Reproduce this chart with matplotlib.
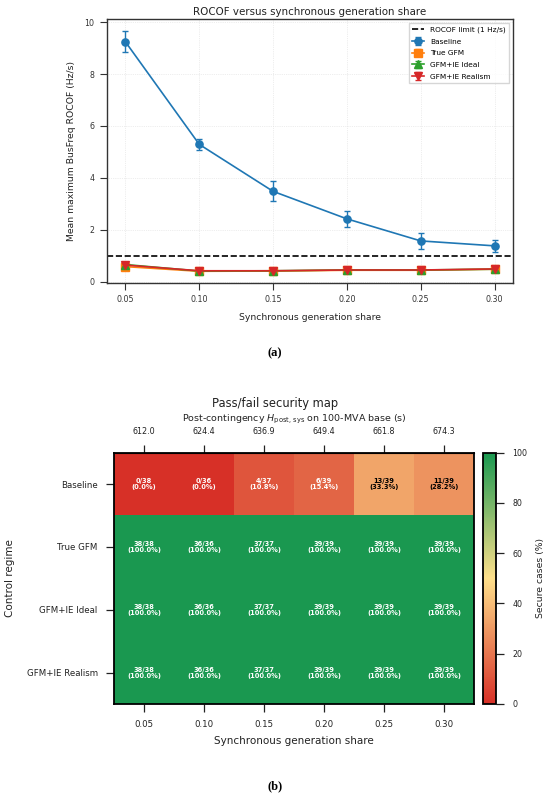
import numpy as np
import matplotlib
matplotlib.use("Agg")
import matplotlib.pyplot as plt
from matplotlib.colors import LinearSegmentedColormap

# ROCOF data (panel a)
share = [0.05, 0.10, 0.15, 0.20, 0.25, 0.30]
baseline = [9.24, 5.29, 3.48, 2.42, 1.57, 1.38]
baseline_err = [0.40, 0.20, 0.39, 0.32, 0.30, 0.22]
true_gfm = [0.58, 0.40, 0.41, 0.44, 0.44, 0.48]
true_gfm_err = [0.05, 0.03, 0.03, 0.03, 0.03, 0.03]
gfm_ideal = [0.66, 0.41, 0.42, 0.45, 0.45, 0.48]
gfm_ideal_err = [0.05, 0.03, 0.03, 0.03, 0.03, 0.03]
gfm_real = [0.64, 0.42, 0.42, 0.45, 0.45, 0.49]
gfm_real_err = [0.05, 0.03, 0.03, 0.03, 0.03, 0.03]
rocof_limit = 1.0

# security map data (panel b)
regimes = ['Baseline', 'True GFM', 'GFM+IE Ideal', 'GFM+IE Realism']
share_labels = ['0.05', '0.10', '0.15', '0.20', '0.25', '0.30']
h_post = ['612.0', '624.4', '636.9', '649.4', '661.8', '674.3']
totals = [38, 36, 37, 39, 39, 39]
secure = [
    [0, 0, 4, 6, 13, 11],
    [38, 36, 37, 39, 39, 39],
    [38, 36, 37, 39, 39, 39],
    [38, 36, 37, 39, 39, 39],
]

fig = plt.figure(figsize=(5.5, 7.98), dpi=100)

# ---------------- (a) ----------------
ax = fig.add_axes([0.1945, 0.6454, 0.7382, 0.3308])
ax.axhline(rocof_limit, color='black', ls='--', lw=1.2, label='ROCOF limit (1 Hz/s)')
kw = dict(lw=1.2, ms=5.2, capsize=2.2, elinewidth=1.0, capthick=1.0)
ax.errorbar(share, baseline, yerr=baseline_err, marker='o', color='#1f77b4', label='Baseline', **kw)
ax.errorbar(share, true_gfm, yerr=true_gfm_err, marker='s', color='#ff7f0e', label='True GFM', **kw)
ax.errorbar(share, gfm_ideal, yerr=gfm_ideal_err, marker='^', color='#2ca02c', label='GFM+IE Ideal', **kw)
ax.errorbar(share, gfm_real, yerr=gfm_real_err, marker='v', color='#d62728', label='GFM+IE Realism', **kw)
ax.set_xticks(share)
ax.set_xticklabels(share_labels)
ax.set_ylim(-0.05, 10.12)
ax.set_yticks([0, 2, 4, 6, 8, 10])
ax.grid(True, ls=':', lw=0.5, color='#dddddd')
ax.tick_params(labelsize=5.7, length=5, width=0.8, colors='#333333', pad=4)
for s in ax.spines.values():
    s.set_color('#333333')
    s.set_linewidth(1.0)
ax.set_title('ROCOF versus synchronous generation share', fontsize=7.4, color='#222222', pad=3)
ax.set_xlabel('Synchronous generation share', fontsize=6.7, color='#222222', labelpad=6)
ax.set_ylabel('Mean maximum BusFreq ROCOF (Hz/s)', fontsize=6.7, color='#222222', labelpad=6)
ax.legend(loc='upper right', fontsize=5.3, frameon=True, fancybox=False, edgecolor='#cccccc',
          borderpad=0.5, labelspacing=0.75, handlelength=1.6)
fig.text(0.5, 1 - 353 / 798, '(a)', ha='center', va='center', fontsize=9, family='Liberation Serif',
         weight='bold')

# ---------------- (b) ----------------
pct = np.array(secure) / np.array(totals) * 100
cmap = LinearSegmentedColormap.from_list('rg', ['#d73027', '#fee08b', '#1a9850'])
hx = fig.add_axes([0.2073, 0.1178, 0.6545, 0.3149])
im = hx.imshow(pct, cmap=cmap, vmin=0, vmax=100, aspect='auto')
for i in range(len(regimes)):
    for j in range(len(totals)):
        p = pct[i, j]
        col = 'black' if 25 <= p <= 75 else 'white'
        hx.text(j, i, f'{secure[i][j]}/{totals[j]}\n({p:.1f}%)', ha='center', va='center',
                fontsize=4.8, weight='bold', color=col, linespacing=1.0)
hx.set_xticks(range(len(share_labels)))
hx.set_xticklabels(share_labels)
hx.set_yticks(range(len(regimes)))
hx.set_yticklabels(regimes)
hx.tick_params(labelsize=6.2, length=5.8, width=0.9, colors='#222222', pad=6)
for s in hx.spines.values():
    s.set_linewidth(1.3)
hx.set_xlabel('Synchronous generation share', fontsize=7.5, color='#222222', labelpad=5)
hx.set_ylabel('Control regime', fontsize=7.5, color='#222222', labelpad=8)

top = hx.secondary_xaxis('top')
top.set_xticks(range(len(h_post)))
top.set_xticklabels(h_post)
top.tick_params(labelsize=5.8, length=5.8, width=0.9, colors='#222222', pad=6)
top.set_xlabel(r'Post-contingency $H_{\mathrm{post,\,sys}}$ on 100-MVA base (s)', fontsize=6.8, color='#222222',
               labelpad=4)
fig.text(0.5, 1 - 404 / 798, 'Pass/fail security map', ha='center', va='center', fontsize=8.3,
         color='#222222')

cax = fig.add_axes([0.8787, 0.1178, 0.0231, 0.3149])
cb = fig.colorbar(im, cax=cax)
cb.set_ticks([0, 20, 40, 60, 80, 100])
cb.ax.tick_params(labelsize=5.7, length=5.8, width=0.9, colors='#222222', pad=6)
cb.outline.set_linewidth(1.3)
cb.set_label('Secure cases (%)', fontsize=6.7, color='#222222', labelpad=6)
fig.text(0.5, 1 - 786 / 798, '(b)', ha='center', va='center', fontsize=9, family='Liberation Serif',
         weight='bold')

fig.savefig('out.png', dpi=100)
